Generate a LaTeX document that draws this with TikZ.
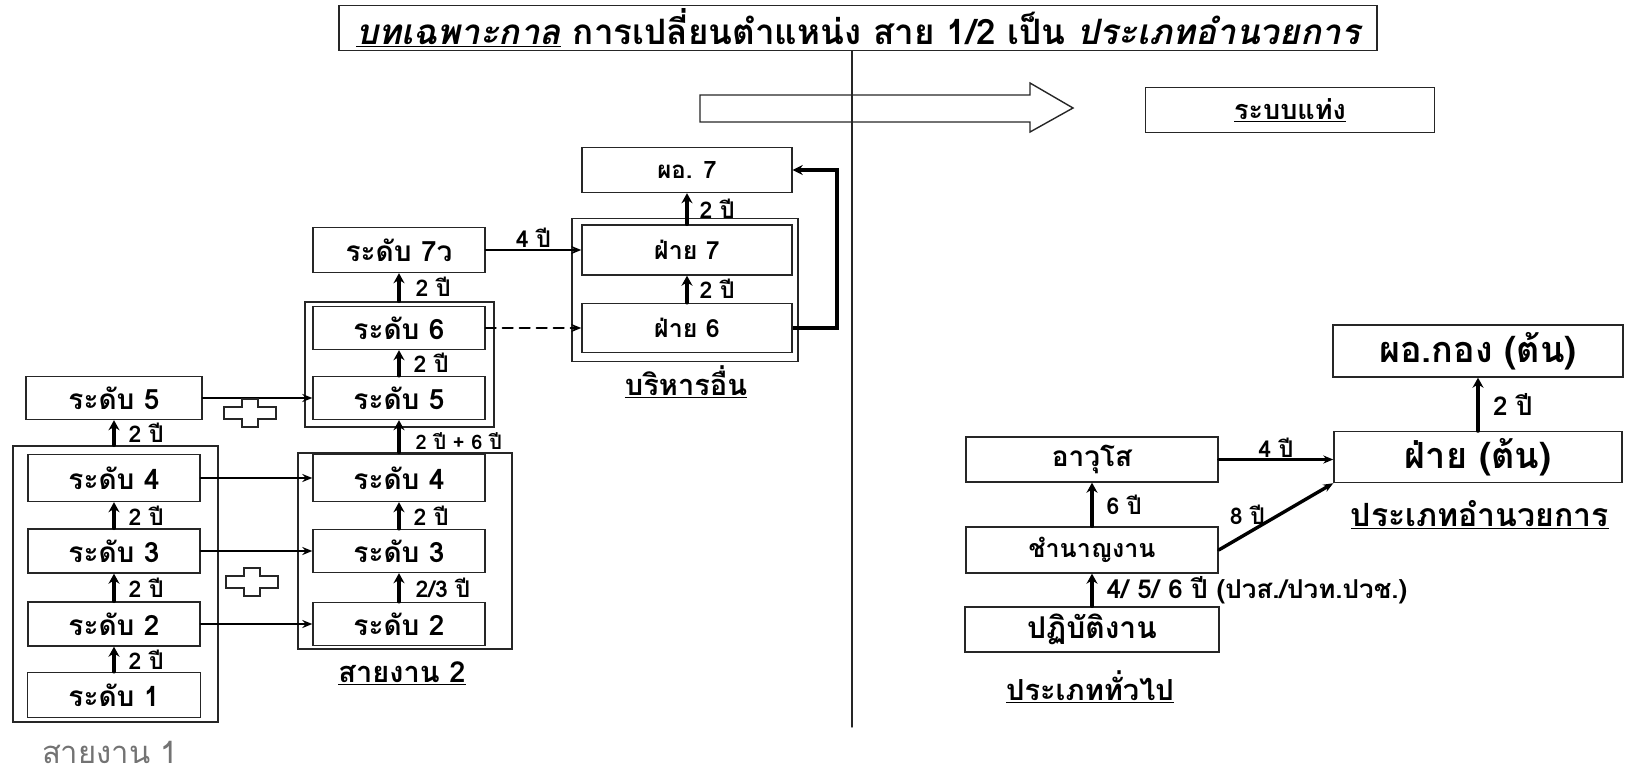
\documentclass[tikz,border=0pt]{standalone}
\usepackage{fontspec}
\setmainfont{Loma}[Script=Thai]
\usetikzlibrary{arrows.meta}

\begin{document}
\begin{tikzpicture}[x=1pt,y=-1pt,line cap=round,
  box/.style={draw=black!85,line width=1.4pt,inner sep=0pt,font=\bfseries\fontsize{25}{29}\selectfont},
  lvl/.style={box,font=\bfseries\fontsize{28}{32}\selectfont},
  frame/.style={draw=black!85,line width=1.4pt},
  up/.style={-{Stealth[length=10pt,width=11pt]},line width=3.4pt},
  link/.style={-{Stealth[length=10pt,width=8pt]},line width=2.2pt},
  yr/.style={font=\bfseries\fontsize{23}{26}\selectfont,inner sep=1pt},
  lanelbl/.style={font=\bfseries\fontsize{29}{33}\selectfont}]
\useasboundingbox (0,0) rectangle (1641,774);

\node[box,minimum width=1038pt,minimum height=45pt,font=\bfseries\fontsize{35}{39}\selectfont] (title) at (858,28) {\underline{\itshape บทเฉพาะกาล} การเปลี่ยนตำแหน่ง สาย 1/2 เป็น {\itshape ประเภทอำนวยการ}};
\coordinate (divend) at (852,727);
\draw[frame] (title.south -| divend) -- (divend);
\draw[frame] (700,95) -- (1030,95) -- (1030,83) -- (1073,108) -- (1030,132) -- (1030,122) -- (700,122) -- cycle;
\node[box,minimum width=289pt,minimum height=45pt,font=\bfseries\fontsize{27}{31}\selectfont] (bar) at (1290,110) {\underline{ระบบแท่ง}};

\node[box,minimum width=210pt,minimum height=45pt,font=\bfseries\fontsize{24}{28}\selectfont] (po7) at (687,170) {ผอ. 7};
\node[frame,minimum width=226pt,minimum height=143pt] (other) at (685,290) {};
\node[box,minimum width=210pt,minimum height=50pt] (fai7) at (687,250) {ฝ่าย 7};
\node[box,minimum width=210pt,minimum height=49pt] (fai6) at (687,328) {ฝ่าย 6};
\node[lanelbl] (otherlbl) at (686,382) {\underline{บริหารอื่น}};

\node[lvl,minimum width=172pt,minimum height=45pt] (r7) at (399,250) {ระดับ 7ว};
\node[frame,minimum width=189pt,minimum height=125pt] (upper) at (399.5,364.5) {};
\node[lvl,minimum width=172pt,minimum height=43pt] (r6) at (399,328) {ระดับ 6};
\node[lvl,minimum width=172pt,minimum height=43pt] (r5m) at (399,398) {ระดับ 5};
\node[frame,minimum width=214pt,minimum height=196pt] (lane2) at (405,551) {};
\node[lvl,minimum width=172pt,minimum height=47pt] (r4m) at (399,478) {ระดับ 4};
\node[lvl,minimum width=172pt,minimum height=43pt] (r3m) at (399,551) {ระดับ 3};
\node[lvl,minimum width=172pt,minimum height=43pt] (r2m) at (399,624) {ระดับ 2};
\node[lanelbl] (lane2lbl) at (402,673) {\underline{สายงาน 2}};

\node[lvl,minimum width=176pt,minimum height=43pt] (r5l) at (114,398) {ระดับ 5};
\node[frame,minimum width=205pt,minimum height=276pt] (lane1) at (115.5,584) {};
\node[lvl,minimum width=172pt,minimum height=47pt] (r4l) at (114,478) {ระดับ 4};
\node[lvl,minimum width=172pt,minimum height=44pt] (r3l) at (114,551) {ระดับ 3};
\node[lvl,minimum width=172pt,minimum height=44pt] (r2l) at (114,624) {ระดับ 2};
\node[lvl,minimum width=173pt,minimum height=45pt] (r1l) at (114,695) {ระดับ 1};
\node[font=\fontsize{31}{35}\selectfont,text=black!55] (lane1lbl) at (110,752) {สายงาน 1};

\node[box,minimum width=290pt,minimum height=52pt,font=\bfseries\fontsize{36}{40}\selectfont] (pkong) at (1478,351) {ผอ.กอง (ต้น)};
\node[box,minimum width=288pt,minimum height=51pt,font=\bfseries\fontsize{36}{40}\selectfont] (faiton) at (1478,457) {ฝ่าย (ต้น)};
\node[lanelbl,font=\bfseries\fontsize{32}{36}\selectfont] (adminlbl) at (1480,515) {\underline{ประเภทอำนวยการ}};
\node[box,minimum width=252pt,minimum height=45pt,font=\bfseries\fontsize{28}{32}\selectfont] (avuso) at (1092,459.5) {อาวุโส};
\node[box,minimum width=252pt,minimum height=46pt] (chamnan) at (1092,550) {ชำนาญงาน};
\node[box,minimum width=254pt,minimum height=45pt,font=\bfseries\fontsize{30}{34}\selectfont] (patibat) at (1092,629.5) {ปฏิบัติงาน};
\node[lanelbl] (genlbl) at (1090,687) {\underline{ประเภททั่วไป}};

\draw[up] (r1l) -- (r2l) node[yr,midway,right=12pt] {2 ปี};
\draw[up] (r2l) -- (r3l) node[yr,midway,right=12pt] {2 ปี};
\draw[up] (r3l) -- (r4l) node[yr,midway,right=12pt] {2 ปี};
\draw[up] (lane1.north -| r5l.south) -- (r5l.south) node[yr,midway,right=12pt] {2 ปี};
\draw[up] (r2m) -- (r3m) node[yr,midway,right=14pt] {2/3 ปี};
\draw[up] (r3m) -- (r4m) node[yr,midway,right=12pt] {2 ปี};
\draw[up] (lane2.north -| r5m.south) -- (r5m.south) node[yr,pos=0.35,right=14pt,font=\bfseries\fontsize{20}{22}\selectfont] {2 ปี + 6 ปี};
\draw[up] (r5m) -- (r6) node[yr,midway,right=12pt] {2 ปี};
\draw[up] (upper.north -| r7.south) -- (r7.south) node[yr,midway,right=14pt] {2 ปี};
\draw[up] (fai6) -- (fai7) node[yr,midway,right=10pt] {2 ปี};
\draw[up] (fai7) -- (po7) node[yr,midway,right=10pt] {2 ปี};
\draw[link] (r7.east) -- (fai7.west) node[yr,midway,above] {4 ปี};
\draw[link,dashed,dash pattern=on 10pt off 7pt] (r6.east) -- (fai6.west);
\coordinate (ret) at (837,0);
\draw[-{Stealth[length=10pt,width=10pt]},line width=4.5pt,line cap=butt] (fai6.east) -| (ret |- po7.east) -- (po7.east);
\foreach \a/\b in {r5l/r5m,r4l/r4m,r3l/r3m,r2l/r2m}
  \draw[link] (\a.east) -- (\b.west);
\foreach \cx/\cy in {250/413,252/582}
  \draw[frame,shift={(\cx,\cy)}] (-26,-6) -- (-8,-6) -- (-8,-14) -- (8,-14) -- (8,-6) -- (26,-6) -- (26,6) -- (8,6) -- (8,14) -- (-8,14) -- (-8,6) -- (-26,6) -- cycle;

\draw[up] (patibat) -- (chamnan) node[yr,midway,right=12pt,font=\bfseries\fontsize{26}{30}\selectfont] {4/ 5/ 6 ปี (ปวส./ปวท.ปวช.)};
\draw[up] (chamnan) -- (avuso) node[yr,midway,right=12pt] {6 ปี};
\draw[link,line width=3pt] (avuso.east) -- (avuso.east -| faiton.west) node[yr,midway,above] {4 ปี};
\draw[link,line width=3.4pt] (chamnan.east) -- (faiton.south west) node[yr,pos=0.25,above=6pt] {8 ปี};
\draw[up,line width=4pt] (faiton) -- (pkong) node[yr,midway,right=12pt,font=\bfseries\fontsize{26}{30}\selectfont] {2 ปี};
\end{tikzpicture}
\end{document}
